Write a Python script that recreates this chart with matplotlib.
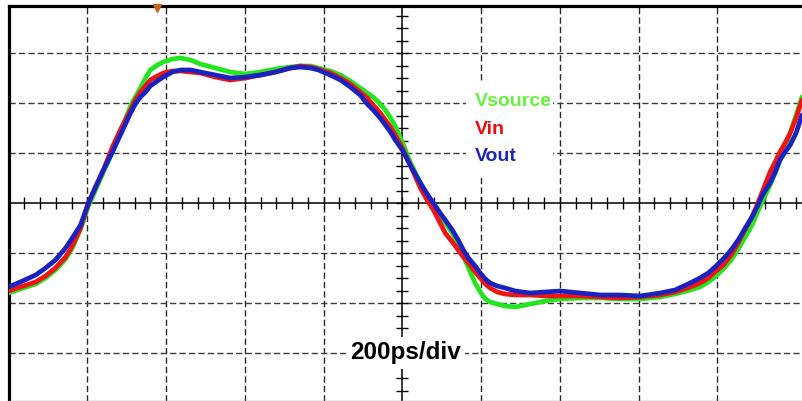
import matplotlib
matplotlib.use("Agg")
import matplotlib.pyplot as plt
import numpy as np
from matplotlib.patches import Rectangle

# time in ps (200 ps/div), voltage in divisions
time_ps = [-1000, -970, -931, -906, -881, -855, -838, -817, -797, -779,
           -759, -736, -716, -690, -678, -665, -652, -640, -622, -607,
           -584, -563, -538, -513, -475, -437, -398, -360, -322, -284,
           -259, -233, -213, -183, -157, -132, -107, -89, -74, -56,
           -43, -30, -18, 0, 20, 46, 63, 79, 96, 109,
           127, 142, 155, 168, 185, 198, 211, 223, 241, 261,
           287, 325, 363, 401, 452, 503, 553, 604, 655, 693,
           731, 756, 777, 794, 815, 835, 853, 871, 888, 901,
           916, 934, 947, 959, 972, 985, 1000, 1015]

vsource = [-1.80, -1.72, -1.62, -1.50, -1.34, -1.12, -0.90, -0.52, -0.06, 0.26,
           0.62, 1.02, 1.42, 1.94, 2.12, 2.30, 2.50, 2.66, 2.76, 2.82,
           2.88, 2.90, 2.86, 2.78, 2.70, 2.62, 2.58, 2.62, 2.68, 2.72,
           2.74, 2.74, 2.70, 2.64, 2.56, 2.44, 2.30, 2.20, 2.12, 1.98,
           1.86, 1.70, 1.54, 1.22, 0.82, 0.40, 0.16, -0.04, -0.24, -0.40,
           -0.60, -0.84, -1.06, -1.30, -1.60, -1.78, -1.92, -1.98, -2.02, -2.06,
           -2.08, -2.02, -1.96, -1.92, -1.90, -1.90, -1.92, -1.92, -1.88, -1.82,
           -1.74, -1.68, -1.58, -1.48, -1.32, -1.14, -0.92, -0.68, -0.44, -0.20,
           0.06, 0.36, 0.60, 0.86, 1.10, 1.40, 1.76, 2.12]

vin = [-1.76, -1.68, -1.58, -1.46, -1.30, -1.08, -0.86, -0.50, 0.00, 0.32,
       0.66, 1.12, 1.46, 1.86, 2.06, 2.22, 2.34, 2.46, 2.54, 2.60,
       2.64, 2.64, 2.62, 2.60, 2.52, 2.46, 2.50, 2.56, 2.62, 2.70,
       2.74, 2.72, 2.68, 2.60, 2.50, 2.38, 2.22, 2.10, 1.96, 1.80,
       1.66, 1.52, 1.36, 1.10, 0.76, 0.30, 0.06, -0.14, -0.40, -0.60,
       -0.78, -0.94, -1.08, -1.20, -1.38, -1.50, -1.62, -1.70, -1.78, -1.82,
       -1.84, -1.84, -1.86, -1.86, -1.86, -1.88, -1.90, -1.88, -1.84, -1.78,
       -1.68, -1.60, -1.50, -1.38, -1.24, -1.04, -0.80, -0.52, -0.28, -0.04,
       0.26, 0.62, 0.82, 1.02, 1.20, 1.40, 1.70, 2.06]

vout = [-1.68, -1.58, -1.44, -1.30, -1.14, -0.90, -0.70, -0.44, 0.00, 0.32,
        0.66, 1.02, 1.36, 1.80, 1.98, 2.12, 2.22, 2.34, 2.44, 2.52,
        2.62, 2.66, 2.66, 2.62, 2.56, 2.50, 2.52, 2.56, 2.62, 2.70,
        2.72, 2.70, 2.66, 2.56, 2.46, 2.32, 2.16, 1.98, 1.86, 1.70,
        1.56, 1.42, 1.26, 1.06, 0.76, 0.40, 0.18, 0.00, -0.20, -0.34,
        -0.54, -0.74, -0.94, -1.10, -1.26, -1.40, -1.52, -1.60, -1.66, -1.70,
        -1.76, -1.80, -1.78, -1.76, -1.80, -1.84, -1.84, -1.86, -1.80, -1.74,
        -1.60, -1.50, -1.40, -1.28, -1.12, -0.94, -0.74, -0.50, -0.28, -0.08,
        0.18, 0.40, 0.62, 0.86, 1.02, 1.16, 1.40, 1.76]

series_names = ["Vsource", "Vin", "Vout"]
line_colors = ["#22e61e", "#f01414", "#1a22c0"]
label_colors = ["#66f23c", "#f00a0a", "#1a28b4"]
scale_label = "200ps/div"
trigger_time = -622

W, H = 802, 401
fig = plt.figure(figsize=(W / 100, H / 100), dpi=100)
left_px, top_px, bottom_px = 8.5, 5.5, 401
ax = fig.add_axes([left_px / W, 1 - bottom_px / H, 1 - left_px / W, (bottom_px - top_px) / H])
ax.set_xlim(-1000, 1015)
ax.set_ylim(-3.96, 3.95)

# grid
grid_x = np.arange(-800, 801, 200)
grid_y = np.arange(-3, 4, 1)
dash = (0, (4.5, 2.3))
for gx in grid_x:
    if gx != 0:
        ax.axvline(gx, color="#2a2a2a", lw=1.0, ls=dash, zorder=1)
for gy in grid_y:
    if gy != 0:
        ax.axhline(gy, color="#3c3c3c", lw=1.0, ls=dash, zorder=1)

# center axes with minor ticks
ax.axhline(0, color="black", lw=1.1, zorder=2)
ax.axvline(0, color="black", lw=1.1, zorder=2)
hticks = np.arange(-960, 1001, 40)
vticks = np.arange(-3.75, 3.9, 0.25)
ax.plot(hticks, np.zeros_like(hticks), ls="none", marker="|", ms=8.0, mew=1.0, color="black", zorder=2)
ax.plot(np.zeros_like(vticks), vticks, ls="none", marker="_", ms=8.6, mew=1.0, color="black", zorder=2)

# curves
for vals, c in zip([vsource, vin, vout], line_colors):
    ax.plot(time_ps, vals, color=c, lw=3.4, solid_joinstyle="round", solid_capstyle="round", zorder=5)

# legend box (white background) and labels
ax.add_patch(Rectangle((162, 0.56), 221, 1.84, facecolor="white", edgecolor="none", zorder=3))
fam = ["Liberation Sans", "DejaVu Sans"]
ys = [2.02, 1.47, 0.93]
for name, c, yv in zip(series_names, label_colors, ys):
    ax.text(183, yv, name, color=c, fontsize=14, fontweight="bold", family=fam,
            ha="left", va="center", zorder=6)

ax.text(8, -3.0, scale_label, color="black", fontsize=17.5, fontweight="bold",
        family=["Liberation Sans", "DejaVu Sans"], ha="center", va="center", zorder=6,
        bbox=dict(facecolor="white", edgecolor="none", pad=3))

# trigger marker
ax.plot([trigger_time], [3.90], marker="v", ms=6, color="#c8641e", clip_on=False, zorder=10)

# frame
for s in ["left", "top"]:
    ax.spines[s].set_linewidth(2.3)
    ax.spines[s].set_color("black")
ax.spines["right"].set_visible(False)
ax.spines["bottom"].set_color("#a0a0a0")
ax.spines["bottom"].set_linewidth(1.0)
ax.set_xticks([])
ax.set_yticks([])

fig.savefig("out.png", dpi=100)
